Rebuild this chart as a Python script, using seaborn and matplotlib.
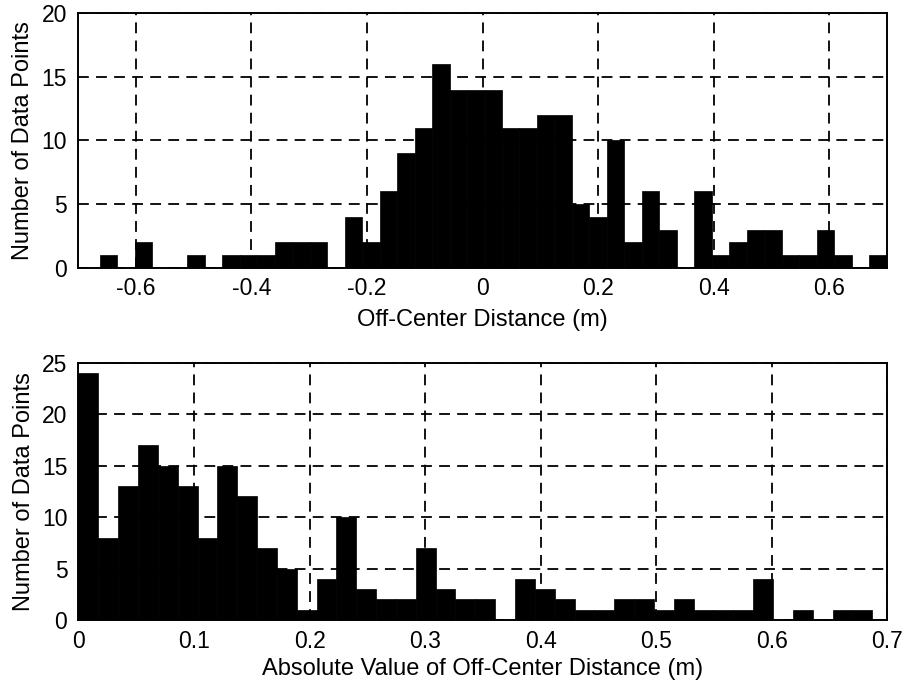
import numpy as np
import pandas as pd
import matplotlib
matplotlib.use("Agg")
import matplotlib.pyplot as plt
import seaborn as sns

# ---- data ----
top_range = (-0.662, 0.699)
top_counts = [1, 0, 2, 0, 0, 1, 0, 1, 1, 1,
              2, 2, 2, 0, 4, 2, 6, 9, 11, 16,
              14, 14, 14, 11, 11, 12, 12, 5, 4, 10,
              2, 6, 3, 0, 6, 1, 2, 3, 3, 1,
              1, 3, 1, 0, 1]

bottom_range = (0.0, 0.687)
bottom_counts = [24, 8, 13, 17, 15, 13, 8, 15, 12, 7,
                 5, 1, 4, 10, 3, 2, 2, 7, 3, 2,
                 2, 0, 4, 3, 2, 1, 1, 2, 2, 1,
                 2, 1, 1, 1, 4, 0, 1, 0, 1, 1]

top_xticks = [-0.6, -0.4, -0.2, 0, 0.2, 0.4, 0.6]
top_xticklabels = ["-0.6", "-0.4", "-0.2", "0", "0.2", "0.4", "0.6"]
top_yticks = [0, 5, 10, 15, 20]
bottom_xticks = [0, 0.1, 0.2, 0.3, 0.4, 0.5, 0.6, 0.7]
bottom_xticklabels = ["0", "0.1", "0.2", "0.3", "0.4", "0.5", "0.6", "0.7"]
bottom_yticks = [0, 5, 10, 15, 20, 25]

top_xlabel = "Off-Center Distance (m)"
bottom_xlabel = "Absolute Value of Off-Center Distance (m)"
ylabel = "Number of Data Points"

# ---- style ----
sns.set_theme(style="white")
plt.rcParams["font.family"] = ["Liberation Sans", "DejaVu Sans"]
plt.rcParams["axes.unicode_minus"] = False

fig = plt.figure(figsize=(9.02, 6.84), dpi=100)
ax1 = fig.add_axes([0.0865, 0.6086, 0.897, 0.372])
ax2 = fig.add_axes([0.0870, 0.0936, 0.8966, 0.3762])


def draw(ax, rng, counts, xticks, xticklabels, yticks, xlabel, xlim, ylim, xlabelpad):
    n = len(counts)
    width = (rng[1] - rng[0]) / n
    centers = rng[0] + width * (np.arange(n) + 0.5)
    df = pd.DataFrame({"x": centers, "w": counts})
    sns.histplot(data=df, x="x", weights="w", bins=n, binrange=rng, ax=ax,
                 color="black", edgecolor="black", linewidth=0.5,
                 alpha=1.0, zorder=2)
    ax.set_xlim(*xlim)
    ax.set_ylim(*ylim)
    ax.set_xticks(xticks)
    ax.set_xticklabels(xticklabels)
    ax.set_yticks(yticks)
    ax.grid(True, color="black", linestyle=(0, (6, 4)), linewidth=1.3, zorder=1)
    ax.set_axisbelow(False)
    for s in ax.spines.values():
        s.set_visible(True)
        s.set_color("black")
        s.set_linewidth(1.4)
    ax.tick_params(axis="x", length=0, labelsize=16.5, colors="black", pad=7)
    ax.tick_params(axis="y", length=0, labelsize=16.5, colors="black", pad=8)
    ax.set_xlabel(xlabel, fontsize=17, color="black", labelpad=xlabelpad)
    ax.set_ylabel(ylabel, fontsize=17, color="black", labelpad=5)
    ax.set_facecolor("white")


draw(ax1, top_range, top_counts, top_xticks, top_xticklabels, top_yticks,
     top_xlabel, (-0.7, 0.7), (0, 20), 6)
draw(ax2, bottom_range, bottom_counts, bottom_xticks, bottom_xticklabels,
     bottom_yticks, bottom_xlabel, (0, 0.7), (0, 25), 4)

fig.savefig("out.png", dpi=100, facecolor="white")
